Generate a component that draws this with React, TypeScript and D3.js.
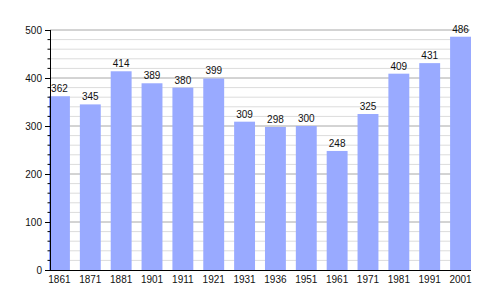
import React from "react";
import * as d3 from "d3";

const years = ["1861", "1871", "1881", "1901", "1911", "1921", "1931", "1936", "1951", "1961", "1971", "1981", "1991", "2001"];
const population = [362, 345, 414, 389, 380, 399, 309, 298, 300, 248, 325, 409, 431, 486];
const majorTicks = [0, 100, 200, 300, 400, 500];
const minorTicks = d3.range(0, 501, 20).filter((v) => v % 100 !== 0);

const W = 500;
const H = 300;
const left = 50;
const right = 471;
const top = 30;
const bottom = 270;

export default function App() {
  const x = d3
    .scaleBand<string>()
    .domain(years)
    .range([49, right])
    .paddingInner(10 / 31)
    .paddingOuter(0);
  const y = d3.scaleLinear().domain([0, 500]).range([bottom, top]);
  const font = "'Liberation Sans', Arial, sans-serif";

  return (
    <svg
      width={W}
      height={H}
      style={{ position: "absolute", left: 0, top: 0, background: "#fff" }}
      fontFamily={font}
    >
      {minorTicks.map((t) => (
        <line key={"mg" + t} x1={left} x2={right - 1} y1={y(t)} y2={y(t)} stroke="#dcdcdc" strokeWidth={1} />
      ))}
      {majorTicks.slice(1).map((t) => (
        <line key={"Mg" + t} x1={left} x2={right - 1} y1={y(t)} y2={y(t)} stroke="#a8a8a8" strokeWidth={1} />
      ))}
      {years.map((yr, i) => (
        <rect
          key={yr}
          x={x(yr)}
          y={y(population[i])}
          width={x.bandwidth()}
          height={bottom - y(population[i])}
          fill="#99aaff"
        />
      ))}
      {years.map((yr, i) => (
        <text
          key={"l" + yr}
          x={(x(yr) as number) + x.bandwidth() / 2}
          y={y(population[i]) - 4}
          textAnchor="middle"
          fontSize={10}
          fill="#111"
        >
          {population[i]}
        </text>
      ))}
      <line x1={left + 0.5} x2={left + 0.5} y1={top} y2={bottom} stroke="#000" strokeWidth={1} />
      <line x1={45} x2={right} y1={bottom + 0.5} y2={bottom + 0.5} stroke="#000" strokeWidth={1} />
      {minorTicks.map((t) => (
        <line key={"mt" + t} x1={47.5} x2={left} y1={y(t)} y2={y(t)} stroke="#000" strokeWidth={1} />
      ))}
      {majorTicks.map((t) => (
        <line key={"Mt" + t} x1={45} x2={left} y1={y(t) + 0.5} y2={y(t) + 0.5} stroke="#000" strokeWidth={1} />
      ))}
      {majorTicks.map((t) => (
        <text key={"yl" + t} x={42} y={y(t) + 3.5} textAnchor="end" fontSize={10} fill="#111">
          {t}
        </text>
      ))}
      {years.map((yr) => (
        <text
          key={"xl" + yr}
          x={(x(yr) as number) + x.bandwidth() / 2}
          y={283}
          textAnchor="middle"
          fontSize={10}
          fill="#111"
        >
          {yr}
        </text>
      ))}
    </svg>
  );
}
